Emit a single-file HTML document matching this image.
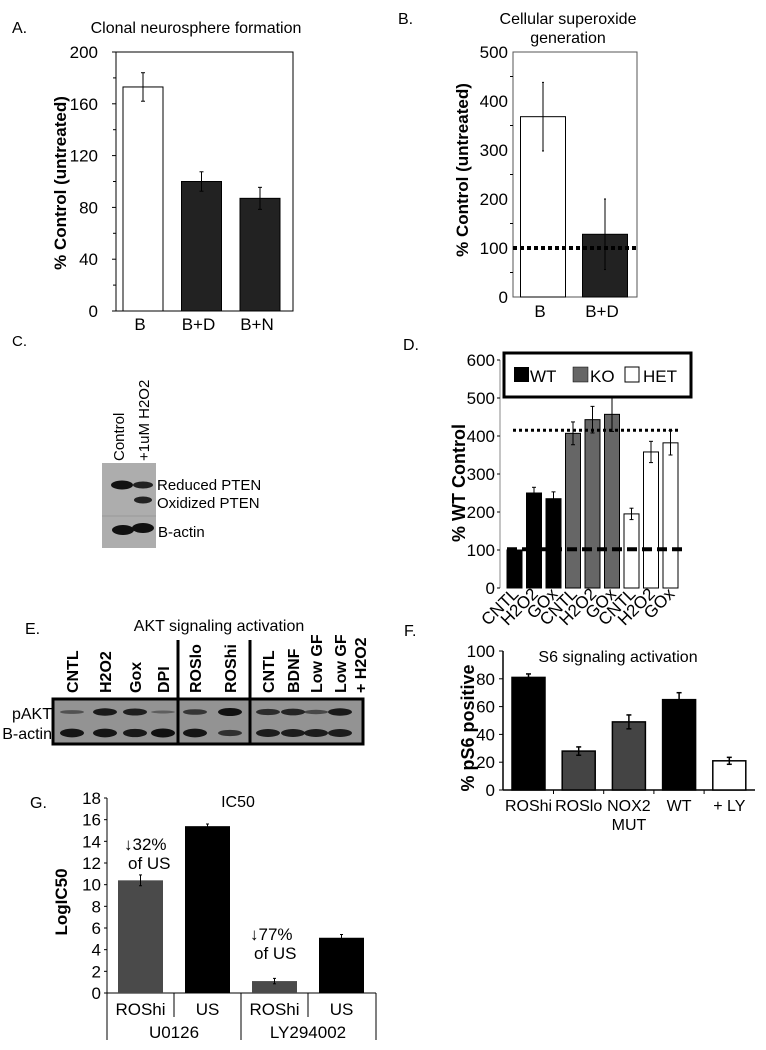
<!DOCTYPE html>
<html><head><meta charset="utf-8">
<style>
html,body{margin:0;padding:0;background:#fff;}
svg{display:block;font-family:"Liberation Sans",Arial,sans-serif;}
</style></head>
<body>
<svg id="fig" width="766" height="1050" viewBox="0 0 766 1050" xmlns="http://www.w3.org/2000/svg">
<rect x="0" y="0" width="766" height="1050" fill="#fff"/>
<text x="12" y="33" font-size="16">A.</text>
<text x="196" y="33" font-size="16" text-anchor="middle">Clonal neurosphere formation</text>
<text x="398" y="24" font-size="16">B.</text>
<text x="568" y="24" font-size="16" text-anchor="middle">Cellular superoxide</text>
<text x="568" y="43" font-size="16" text-anchor="middle">generation</text>
<text x="12" y="346" font-size="15">C.</text>
<text x="403" y="350" font-size="16">D.</text>
<text x="25" y="634" font-size="16">E.</text>
<text x="219" y="631" font-size="16" text-anchor="middle">AKT signaling activation</text>
<text x="404" y="636" font-size="16">F.</text>
<text x="618" y="662" font-size="16" text-anchor="middle">S6 signaling activation</text>
<text x="30" y="808" font-size="16">G.</text>
<text x="238" y="807" font-size="16" text-anchor="middle">IC50</text>

<g>
<rect x="102" y="463" width="54" height="85" fill="#adadad"/>
<line x1="102" y1="516" x2="156" y2="516" stroke="#999" stroke-width="1"/>
<ellipse cx="122" cy="485" rx="11" ry="4.5" fill="#111"/>
<ellipse cx="143" cy="485" rx="10" ry="3.5" fill="#222"/>
<ellipse cx="143" cy="500" rx="9" ry="3.5" fill="#222"/>
<ellipse cx="123" cy="530" rx="11" ry="5" fill="#111"/>
<ellipse cx="143" cy="528" rx="11" ry="5" fill="#111"/>
</g>
<text transform="translate(124,461) rotate(-90)" font-size="15">Control</text>
<text transform="translate(149,461) rotate(-90)" font-size="15">+1uM H2O2</text>
<text x="157" y="490" font-size="15">Reduced PTEN</text>
<text x="157" y="508" font-size="15">Oxidized PTEN</text>
<text x="158" y="537" font-size="15">B-actin</text>

<g>
<rect x="53" y="699" width="310" height="45" fill="#939393" stroke="#000" stroke-width="3"/>
<line x1="178" y1="640" x2="178" y2="744" stroke="#000" stroke-width="3"/>
<line x1="250" y1="640" x2="250" y2="744" stroke="#000" stroke-width="3"/>
</g>
<text x="52" y="719" font-size="16" text-anchor="end">pAKT</text>
<text x="52" y="739" font-size="16" text-anchor="end">B-actin</text>

<g>
<rect x="504" y="353" width="187" height="44" fill="#fff" stroke="#000" stroke-width="3"/>
<rect x="514" y="367" width="15" height="15" fill="#000"/>
<text x="530" y="382" font-size="17">WT</text>
<rect x="573" y="367" width="15" height="15" fill="#666" stroke="#000" stroke-width="0.5"/>
<text x="590" y="382" font-size="17">KO</text>
<rect x="625" y="367" width="14" height="15" fill="#fff" stroke="#000" stroke-width="1"/>
<text x="643" y="382" font-size="17">HET</text>
</g>
<g id="charts"></g>
</svg>
<script>
const aCats = ['B', 'B+D', 'B+N'];
const aVals = [173, 100, 87];
const aErr = [11, 7.5, 8.5];
const aTicks = [0, 40, 80, 120, 160, 200];
const bCats = ['B', 'B+D'];
const bVals = [368, 128];
const bErr = [70, 72];
const bTicks = [0, 100, 200, 300, 400, 500];
const bRef = 100;
const dCats = ['CNTL', 'H2O2', 'GOx', 'CNTL', 'H2O2', 'GOx', 'CNTL', 'H2O2', 'GOx'];
const dGroups = ['WT', 'WT', 'WT', 'KO', 'KO', 'KO', 'HET', 'HET', 'HET'];
const dVals = [100, 250, 235, 407, 443, 457, 195, 358, 382];
const dErr = [0, 15, 18, 30, 35, 45, 15, 28, 32];
const dTicks = [0, 100, 200, 300, 400, 500, 600];
const dRefHigh = 415;
const dRefLow = 102;
const eLanes = ['CNTL', 'H2O2', 'Gox', 'DPI', 'ROSlo', 'ROShi', 'CNTL', 'BDNF', 'Low GF', 'Low GF'];
const ePakt = [0.3, 0.9, 0.85, 0.15, 0.6, 1.0, 0.7, 0.8, 0.4, 0.9];
const eActin = [0.95, 0.95, 0.9, 1.0, 0.95, 0.6, 0.85, 0.85, 0.85, 0.85];
const fCats = ['ROShi', 'ROSlo', 'NOX2', 'WT', '+ LY'];
const fVals = [81, 28, 49, 65, 21];
const fErr = [2.5, 3, 5, 5, 2.5];
const fTicks = [0, 20, 40, 60, 80, 100];
const gCats = ['ROShi', 'US', 'ROShi', 'US'];
const gDrugs = ['U0126', 'LY294002'];
const gVals = [10.4, 15.4, 1.1, 5.1];
const gErr = [0.5, 0.2, 0.25, 0.3];
const gTicks = [0, 2, 4, 6, 8, 10, 12, 14, 16, 18];
const gNotes = ['↓32%', '↓77%'];

const NS = 'http://www.w3.org/2000/svg';
const root = document.getElementById('charts');
function mk(tag, attrs, parent) {
  const e = document.createElementNS(NS, tag);
  for (const k in attrs) e.setAttribute(k, attrs[k]);
  (parent || root).appendChild(e);
  return e;
}
function txt(x, y, s, size, anchor, extra) {
  const t = mk('text', Object.assign({x: x, y: y, 'font-size': size, 'text-anchor': anchor || 'middle'}, extra || {}));
  t.textContent = s;
  return t;
}
function errBar(cx, y1, y2, cap) {
  const g = mk('g', {stroke: '#000', 'stroke-width': 1});
  mk('line', {x1: cx, y1: y1, x2: cx, y2: y2}, g);
  mk('line', {x1: cx - cap, y1: y1, x2: cx + cap, y2: y1}, g);
  mk('line', {x1: cx - cap, y1: y2, x2: cx + cap, y2: y2}, g);
  return g;
}

(function () {
  const L = 116, R = 293, T = 52, B = 311;
  const y = v => B - v * (B - T) / 200;
  const frame = mk('rect', {x: L, y: T, width: R - L, height: B - T, fill: 'none', stroke: '#000', 'stroke-width': 1});
  
  
  aTicks.forEach(v => {
    const t = txt(98, y(v) + 6, String(v), 17, 'end');
    
    
    const tk = mk('line', {x1: L - 4, y1: y(v), x2: L, y2: y(v), stroke: '#000'});
    
    
    if (v < 200) {
      const m = mk('line', {x1: L - 3, y1: y(v + 20), x2: L, y2: y(v + 20), stroke: '#000'});
      
      
    }
  });
  aCats.forEach((c, i) => {
    const cx = 143 + i * 58.5;
    const b = mk('rect', {x: cx - 20, y: y(aVals[i]), width: 40, height: B - y(aVals[i]), fill: i === 0 ? '#fff' : '#222', stroke: '#000', 'stroke-width': 1});
    
    
    const e = errBar(cx, y(aVals[i] + aErr[i]), y(aVals[i] - aErr[i]), 2);
    
    
    const t = txt(cx - 3, 330, c, 17, 'middle');
    
    
  });
  const yt = txt(0, 0, '% Control (untreated)', 17, 'middle', {'font-weight': 'bold', transform: 'translate(66,183) rotate(-90)'});
  
  
})();

(function () {
  const L = 513, R = 637, T = 52, B = 297;
  const y = v => B - v * (B - T) / 500;
  const frame = mk('rect', {x: L, y: T, width: R - L, height: B - T, fill: 'none', stroke: '#555', 'stroke-width': 1});
  
  
  bTicks.forEach(v => {
    const t = txt(508, y(v) + 6, String(v), 17, 'end');
    
    
    if (v < 500) {
      const m = mk('line', {x1: L - 3, y1: y(v + 50), x2: L, y2: y(v + 50), stroke: '#000'});
      
      
    }
  });
  bCats.forEach((c, i) => {
    const cx = 543 + i * 62;
    const b = mk('rect', {x: cx - 22.5, y: y(bVals[i]), width: 45, height: B - y(bVals[i]), fill: i === 0 ? '#fff' : '#222', stroke: '#000', 'stroke-width': 1});
    
    
    const e = errBar(cx, y(bVals[i] + bErr[i]), y(bVals[i] - bErr[i]), 1);
    
    
    const t = txt(cx - 3, 317, c, 17, 'middle');
    
    
  });
  const ref = mk('line', {x1: L, y1: y(bRef), x2: R, y2: y(bRef), stroke: '#000', 'stroke-width': 4, 'stroke-dasharray': '4 3'});
  
  
  const yt = txt(0, 0, '% Control (untreated)', 17, 'middle', {'font-weight': 'bold', transform: 'translate(468,170) rotate(-90)'});
  
  
})();

(function () {
  const L = 500, T = 360, B = 588;
  const y = v => B - v * (B - T) / 600;
  const ax = mk('line', {x1: L, y1: T, x2: L, y2: B, stroke: '#888', 'stroke-width': 1});
  
  
  dTicks.forEach(v => {
    const t = txt(495, y(v) + 6, String(v), 17, 'end');
    
    
    const tk = mk('line', {x1: L - 3, y1: y(v), x2: L, y2: y(v), stroke: '#000'});
    
    
  });
  const colors = {WT: '#000', KO: '#666', HET: '#fff'};
  dCats.forEach((c, i) => {
    const cx = 514.5 + i * 19.5;
    const b = mk('rect', {x: cx - 7.5, y: y(dVals[i]), width: 15, height: B - y(dVals[i]), fill: colors[dGroups[i]], stroke: '#000', 'stroke-width': 1});
    
    
    if (dErr[i] > 0) {
      const e = errBar(cx, y(dVals[i] + dErr[i]), y(dVals[i] - dErr[i]), 2);
      
      
    }
    const t = txt(0, 0, c, 17, 'end', {transform: 'translate(' + (cx + 5) + ',595) rotate(-45)'});
    
    
  });
  const hi = mk('line', {x1: 513, y1: y(dRefHigh), x2: 681, y2: y(dRefHigh), stroke: '#000', 'stroke-width': 3, 'stroke-dasharray': '3 3'});
  
  
  const lo = mk('line', {x1: 507, y1: y(dRefLow), x2: 685, y2: y(dRefLow), stroke: '#000', 'stroke-width': 4, 'stroke-dasharray': '10 5'});
  
  
  const yt = txt(0, 0, '% WT Control', 18, 'middle', {'font-weight': 'bold', transform: 'translate(465,483) rotate(-90)'});
  
  
})();

(function () {
  const lx = [72, 105, 135, 163, 195, 230, 268, 293, 316, 340];
  eLanes.forEach((c, i) => {
    const t = txt(0, 0, c, 16, 'start', {'font-weight': 'bold', transform: 'translate(' + (lx[i] + 6) + ',693) rotate(-90)'});
    
    
    const p = mk('ellipse', {cx: lx[i], cy: 712, rx: 12, ry: 1 + 3 * ePakt[i], fill: '#111', opacity: 0.3 + 0.7 * ePakt[i]});
    
    
    const a = mk('ellipse', {cx: lx[i], cy: 733, rx: 12, ry: 1 + 3.5 * eActin[i], fill: '#111', opacity: 0.4 + 0.6 * eActin[i]});
    
    
  });
  const t2 = txt(0, 0, '+ H2O2', 16, 'start', {'font-weight': 'bold', transform: 'translate(366,693) rotate(-90)'});
  
  
})();

(function () {
  const L = 503, R = 755, B = 790, T = 651;
  const y = v => B - v * (B - T) / 100;
  const ax = mk('line', {x1: L, y1: T, x2: L, y2: B, stroke: '#000', 'stroke-width': 1.5});
  
  
  const xa = mk('line', {x1: L, y1: B, x2: R, y2: B, stroke: '#000', 'stroke-width': 1.5});
  
  
  fTicks.forEach(v => {
    const t = txt(495, y(v) + 6, String(v), 17, 'end');
    
    
    const tk = mk('line', {x1: L - 4, y1: y(v), x2: L, y2: y(v), stroke: '#000'});
    
    
  });
  const colors = ['#000', '#444', '#444', '#000', '#fff'];
  fCats.forEach((c, i) => {
    const cx = 528.5 + i * 50.2;
    const b = mk('rect', {x: cx - 16.5, y: y(fVals[i]), width: 33, height: B - y(fVals[i]), fill: colors[i], stroke: '#000', 'stroke-width': 1.5});
    
    
    const e = errBar(cx, y(fVals[i] + fErr[i]), y(fVals[i] - fErr[i]), 2.5);
    e.setAttribute('stroke-width', 1.5);
    
    
    const t = txt(cx, 811, c, 16, 'middle');
    
    
    if (i < fCats.length - 1) {
      const tk = mk('line', {x1: cx + 25, y1: B, x2: cx + 25, y2: B + 4, stroke: '#000'});
      
      
    }
  });
  const mut = txt(629, 830, 'MUT', 16, 'middle');
  
  
  const yt = txt(0, 0, '% pS6 positive', 18, 'middle', {'font-weight': 'bold', transform: 'translate(474,728) rotate(-90)'});
  
  
})();

(function () {
  const L = 107, R = 376, B = 993, T = 798;
  const y = v => B - v * (B - T) / 18;
  const ax = mk('line', {x1: L, y1: T, x2: L, y2: B, stroke: '#000', 'stroke-width': 1});
  
  
  const xa = mk('line', {x1: L, y1: B, x2: R, y2: B, stroke: '#000', 'stroke-width': 1});
  
  
  gTicks.forEach(v => {
    const t = txt(101, y(v) + 6, String(v), 17, 'end');
    
    
    const tk = mk('line', {x1: L - 3, y1: y(v), x2: L, y2: y(v), stroke: '#000'});
    
    
  });
  gCats.forEach((c, i) => {
    const cx = 140.5 + i * 67;
    const b = mk('rect', {x: cx - 22.5, y: y(gVals[i]), width: 45, height: B - y(gVals[i]), fill: i % 2 === 0 ? '#4a4a4a' : '#000'});
    
    
    const e = errBar(cx, y(gVals[i] + gErr[i]), y(gVals[i] - gErr[i]), 1.5);
    
    
    const t = txt(cx, 1015, c, 17, 'middle');
    
    
  });
  [107, 174, 241, 308, 376].forEach((x, i) => {
    const l = mk('line', {x1: x, y1: B, x2: x, y2: i % 2 === 0 ? 1040 : 1017, stroke: '#000'});
    
    
  });
  gDrugs.forEach((d, i) => {
    const t = txt(174 + i * 134, 1038, d, 17, 'middle');
    
    
  });
  gNotes.forEach((n, i) => {
    const ax0 = 124 + i * 126, ay = i === 0 ? 850 : 940;
    const t1 = txt(ax0, ay, n, 17, 'start');
    
    
    const t2 = txt(ax0 + 4, ay + 19, 'of US', 17, 'start');
    
    
  });
  const yt = txt(0, 0, 'LogIC50', 17, 'middle', {'font-weight': 'bold', transform: 'translate(67,902) rotate(-90)'});
  
  
})();
</script>
</body></html>
